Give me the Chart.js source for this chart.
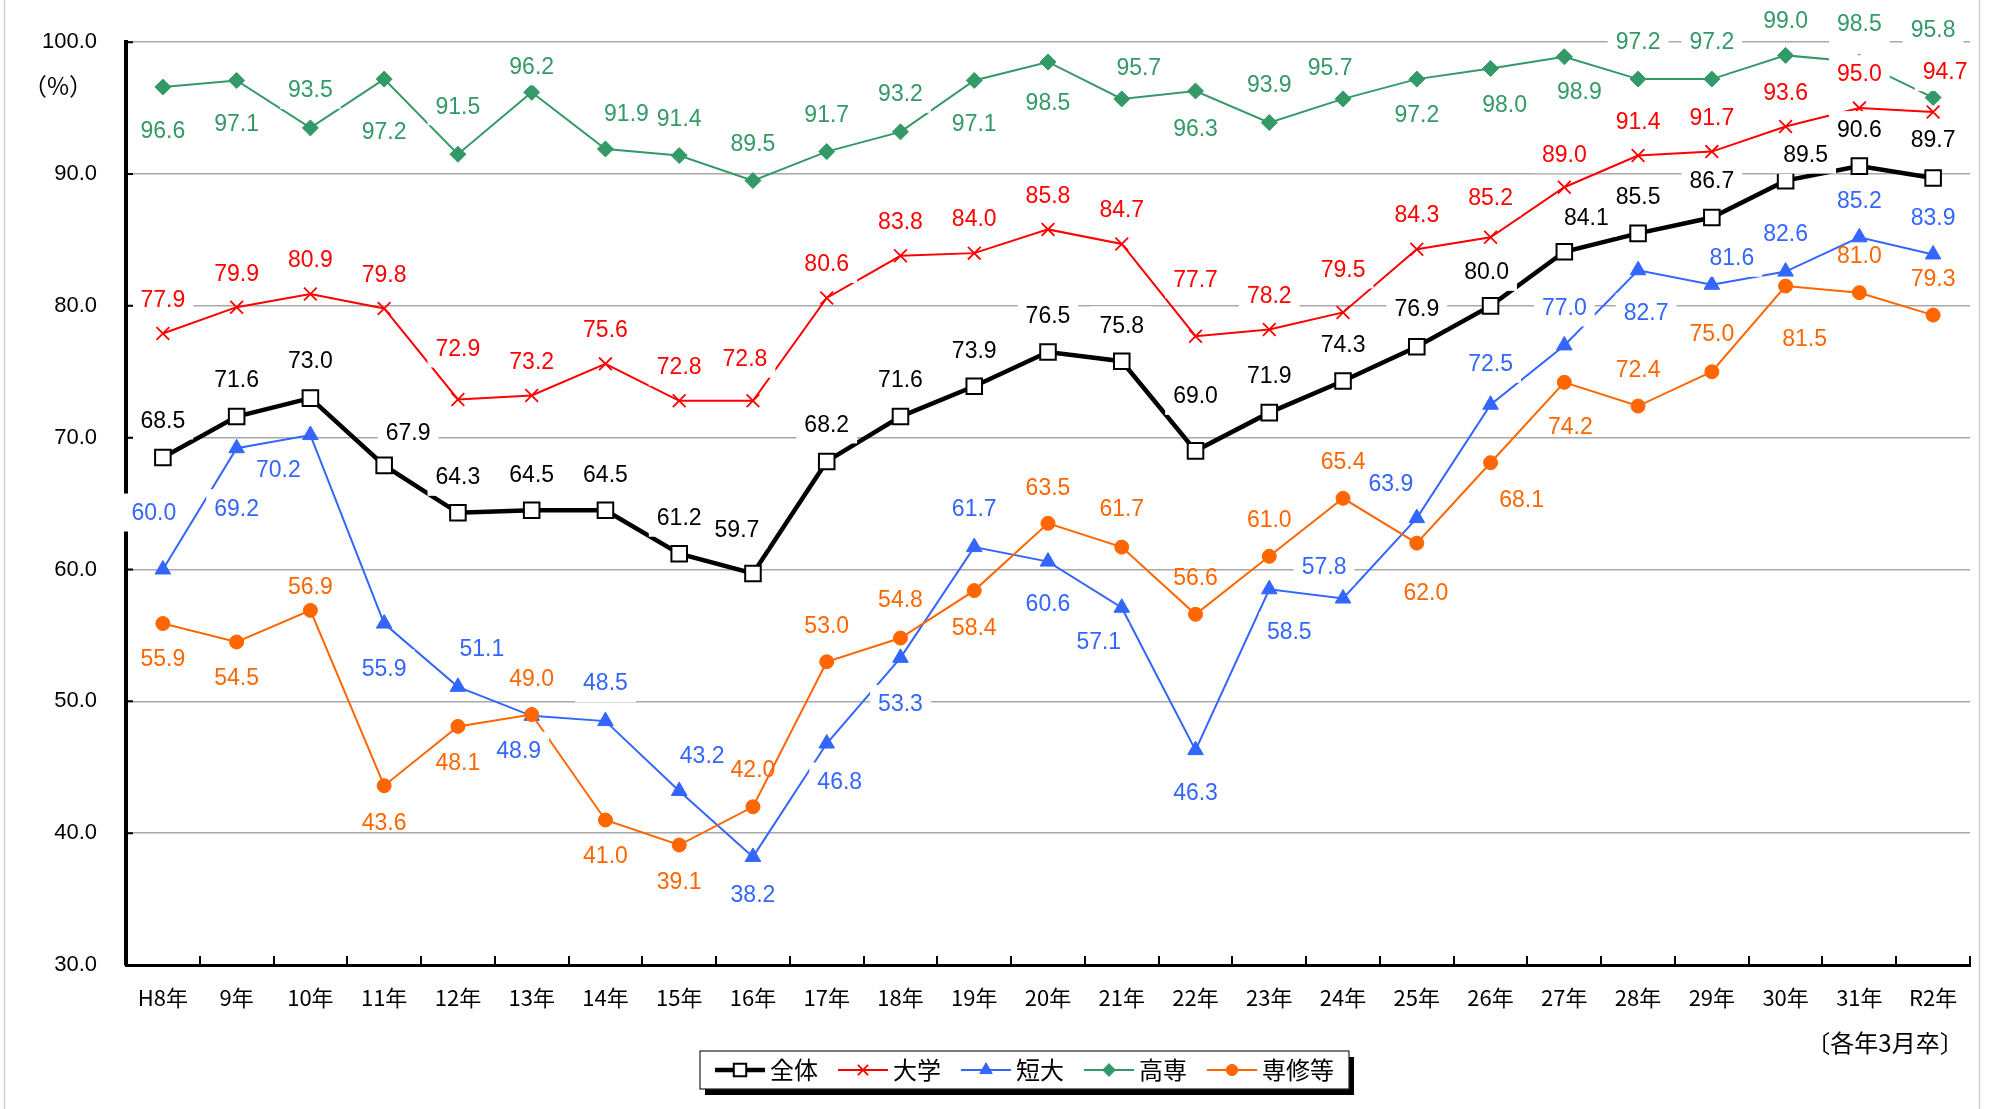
<!DOCTYPE html>
<html lang="ja">
<head>
<meta charset="utf-8">
<title>就職率の推移</title>
<script src="https://cdn.jsdelivr.net/npm/chart.js@4.4.1/dist/chart.umd.min.js"></script>
<style>
  html, body { margin: 0; padding: 0; background: #fff; }
  #wrap { width: 2002px; height: 1109px; position: relative; }
</style>
</head>
<body>
<div id="wrap"><canvas id="myChart" width="2002" height="1109"></canvas></div>
<script>
// x axis
const years = ['H8年', '9年', '10年', '11年', '12年', '13年', '14年', '15年', '16年', '17年', '18年', '19年',
  '20年', '21年', '22年', '23年', '24年', '25年', '26年', '27年', '28年', '29年', '30年', '31年', 'R2年'];

// series values (%)
const zentai = [68.5, 71.6, 73.0, 67.9, 64.3, 64.5, 64.5, 61.2, 59.7, 68.2, 71.6, 73.9, 76.5, 75.8, 69.0, 71.9, 74.3, 76.9, 80.0, 84.1, 85.5, 86.7, 89.5, 90.6, 89.7];
const daigaku = [77.9, 79.9, 80.9, 79.8, 72.9, 73.2, 75.6, 72.8, 72.8, 80.6, 83.8, 84.0, 85.8, 84.7, 77.7, 78.2, 79.5, 84.3, 85.2, 89.0, 91.4, 91.7, 93.6, 95.0, 94.7];
const tandai = [60.0, 69.2, 70.2, 55.9, 51.1, 48.9, 48.5, 43.2, 38.2, 46.8, 53.3, 61.7, 60.6, 57.1, 46.3, 58.5, 57.8, 63.9, 72.5, 77.0, 82.7, 81.6, 82.6, 85.2, 83.9];
const kosen = [96.6, 97.1, 93.5, 97.2, 91.5, 96.2, 91.9, 91.4, 89.5, 91.7, 93.2, 97.1, 98.5, 95.7, 96.3, 93.9, 95.7, 97.2, 98.0, 98.9, 97.2, 97.2, 99.0, 98.5, 95.8];
const senshu = [55.9, 54.5, 56.9, 43.6, 48.1, 49.0, 41.0, 39.1, 42.0, 53.0, 54.8, 58.4, 63.5, 61.7, 56.6, 61.0, 65.4, 62.0, 68.1, 74.2, 72.4, 75.0, 81.5, 81.0, 79.3];

// y ticks
const yMin = 30, yMax = 100, yStep = 10;

// where each value label sits relative to its point [dx, dy] in px
const zentaiPos = [[0,-37],[0,-37],[0,-37],[24,-33],[0,-36],[0,-36],[0,-36],[0,-36],[-16,-44],[0,-37],[0,-37],[0,-36],[0,-36],[0,-36],[0,-55],[0,-37],[0,-36],[0,-38],[-4,-34],[22,-34],[0,-37],[0,-37],[20,-26],[0,-36],[0,-38]];
const daigakuPos = [[0,-34],[0,-34],[0,-34],[0,-34],[0,-51],[0,-34],[0,-34],[0,-34],[-8,-42],[0,-34],[0,-34],[0,-34],[0,-34],[0,-34],[0,-57],[0,-34],[0,-43],[0,-35],[0,-40],[0,-33],[0,-34],[0,-34],[0,-34],[0,-34],[12,-40]];
const tandaiPos = [[-9,-57],[0,60],[-32,35],[0,45],[24,-38],[-13,35],[0,-38],[23,-35],[0,38],[13,38],[0,46],[0,-38],[0,42],[-23,34],[0,43],[20,42],[-19,-32],[-26,-34],[0,-41],[0,-38],[8,42],[20,-27],[0,-38],[0,-37],[0,-37]];
const kosenPos = [[0,44],[0,43],[0,-38],[0,53],[0,-48],[0,-26],[21,-35],[0,-37],[0,-37],[0,-37],[0,-38],[0,43],[0,41],[17,-31],[0,38],[0,-38],[-13,-31],[0,36],[14,36],[15,35],[0,-37],[0,-37],[0,-35],[0,-38],[0,-68]];
const senshuPos = [[0,35],[0,36],[0,-24],[0,37],[0,36],[0,-36],[0,36],[0,37],[0,-37],[0,-36],[0,-38],[0,37],[0,-36],[0,-38],[0,-37],[0,-37],[0,-37],[9,50],[31,37],[6,44],[0,-36],[0,-38],[19,53],[0,-37],[0,-36]];

const SANS = "'Liberation Sans', Arial, sans-serif";
const JP = "'Noto Sans CJK JP', sans-serif";

// value labels; most of them sit on a white box, like the excel original
const valueLabels = {
  id: 'valueLabels',
  afterDatasetsDraw(chart) {
    const ctx = chart.ctx;
    ctx.save();
    ctx.font = '23px ' + SANS;
    ctx.textAlign = 'center';
    ctx.textBaseline = 'middle';
    chart.data.datasets.forEach((ds, di) => {
      const meta = chart.getDatasetMeta(di);
      meta.data.forEach((pt, i) => {
        const txt = ds.data[i].toFixed(1);
        const off = ds.labelPos[i];
        const x = pt.x + off[0], y = pt.y + off[1];
        if (ds.labelBox) {
          const w = ctx.measureText(txt).width + 16;
          ctx.fillStyle = '#fff';
          ctx.fillRect(x - w / 2, y - 19, w, 38);
        }
        ctx.fillStyle = ds.labelColor;
        ctx.fillText(txt, x, y + 1);
      });
    });
    ctx.restore();
  }
};

// frame, inside ticks, unit, note and legend box
const extras = {
  id: 'extras',
  beforeDraw(chart) {
    const ctx = chart.ctx;
    ctx.save();
    ctx.strokeStyle = '#d4d4d4';
    ctx.lineWidth = 1.5;
    ctx.beginPath();
    ctx.moveTo(4.5, 0); ctx.lineTo(4.5, 1109);
    ctx.moveTo(1979.5, 0); ctx.lineTo(1979.5, 1109);
    ctx.stroke();
    ctx.restore();
  },
  afterDraw(chart) {
    const ctx = chart.ctx;
    const area = chart.chartArea;
    const xs = chart.scales.x;
    const ys = chart.scales.y;
    ctx.save();
    // ticks pointing inward
    ctx.strokeStyle = '#000';
    ctx.lineWidth = 2;
    ctx.beginPath();
    const step = xs.getPixelForValue(1) - xs.getPixelForValue(0);
    for (let i = 0; i <= years.length; i++) {
      const px = Math.round(xs.getPixelForValue(i) - step / 2);
      ctx.moveTo(px, area.bottom);
      ctx.lineTo(px, area.bottom - 9);
    }
    for (let v = yMin; v <= yMax; v += yStep) {
      const py = ys.getPixelForValue(v);
      ctx.moveTo(area.left, py);
      ctx.lineTo(area.left + 7, py);
    }
    ctx.stroke();

    ctx.fillStyle = '#000';
    ctx.textBaseline = 'middle';
    ctx.textAlign = 'center';
    ctx.font = '24px ' + JP;
    ctx.fillText('（%）', 58, 86);
    ctx.fillText('〔各年3月卒〕', 1885, 1043);

    // legend
    const items = chart.data.datasets;
    ctx.font = '24px ' + JP;
    const lineLen = 50, gap = 5, space = 20;
    let total = 0;
    items.forEach((ds, i) => {
      total += lineLen + gap + ctx.measureText(ds.label).width + (i < items.length - 1 ? space : 0);
    });
    const boxL = 700, boxR = 1349, boxT = 1051, boxB = 1089;
    ctx.fillStyle = '#000';
    ctx.fillRect(boxL + 5, boxT + 6, boxR - boxL, boxB - boxT);
    ctx.fillStyle = '#fff';
    ctx.fillRect(boxL, boxT, boxR - boxL, boxB - boxT);
    ctx.strokeStyle = '#222';
    ctx.lineWidth = 1.2;
    ctx.strokeRect(boxL, boxT, boxR - boxL, boxB - boxT);
    let lx = (boxL + boxR) / 2 - total / 2;
    const ly = (boxT + boxB) / 2;
    items.forEach((ds) => {
      ctx.strokeStyle = ds.borderColor;
      ctx.lineWidth = ds.borderWidth;
      ctx.beginPath();
      ctx.moveTo(lx, ly); ctx.lineTo(lx + lineLen, ly);
      ctx.stroke();
      ctx.fillStyle = ds.pointBackgroundColor;
      ctx.strokeStyle = ds.pointBorderColor;
      ctx.lineWidth = ds.pointBorderWidth;
      Chart.helpers.drawPoint(ctx, {
        pointStyle: ds.pointStyle,
        radius: ds.pointRadius * 0.8,
        rotation: 0,
        borderWidth: ds.pointBorderWidth
      }, lx + lineLen / 2, ly);
      ctx.fillStyle = '#000';
      ctx.textAlign = 'left';
      ctx.fillText(ds.label, lx + lineLen + gap, ly);
      lx += lineLen + gap + ctx.measureText(ds.label).width + space;
    });
    ctx.restore();
  }
};

const ctx = document.querySelector('#myChart').getContext('2d');

new Chart(ctx, {
  type: 'line',
  data: {
    labels: years,
    datasets: [
      {
        label: '全体', data: zentai, labelPos: zentaiPos, labelColor: '#000', labelBox: true,
        borderColor: '#000', borderWidth: 4.5,
        pointStyle: 'rect', pointRadius: 11, pointBackgroundColor: '#fff',
        pointBorderColor: '#000', pointBorderWidth: 2, order: 5
      },
      {
        label: '大学', data: daigaku, labelPos: daigakuPos, labelColor: '#ff0000', labelBox: true,
        borderColor: '#ff0000', borderWidth: 2,
        pointStyle: 'crossRot', pointRadius: 9, pointBackgroundColor: '#ff0000',
        pointBorderColor: '#ff0000', pointBorderWidth: 1.8, order: 4
      },
      {
        label: '短大', data: tandai, labelPos: tandaiPos, labelColor: '#3366ff', labelBox: true,
        borderColor: '#3366ff', borderWidth: 2,
        pointStyle: 'triangle', pointRadius: 9, pointBackgroundColor: '#3366ff',
        pointBorderColor: '#3366ff', pointBorderWidth: 1, order: 3
      },
      {
        label: '高専', data: kosen, labelPos: kosenPos, labelColor: '#339966', labelBox: true,
        borderColor: '#339966', borderWidth: 2,
        pointStyle: 'rectRot', pointRadius: 8, pointBackgroundColor: '#339966',
        pointBorderColor: '#339966', pointBorderWidth: 1, order: 2
      },
      {
        label: '専修等', data: senshu, labelPos: senshuPos, labelColor: '#ff6600', labelBox: false,
        borderColor: '#ff6600', borderWidth: 2,
        pointStyle: 'circle', pointRadius: 7, pointBackgroundColor: '#ff6600',
        pointBorderColor: '#ff6600', pointBorderWidth: 1, order: 1
      }
    ]
  },
  options: {
    responsive: false,
    animation: false,
    devicePixelRatio: 1,
    layout: { padding: { left: 0, top: 41, right: 32, bottom: 0 } },
    plugins: {
      legend: { display: false },
      tooltip: { enabled: false }
    },
    elements: { line: { tension: 0 } },
    scales: {
      x: {
        offset: true,
        grid: { display: false, drawTicks: false },
        border: { display: true, color: '#000', width: 3 },
        ticks: { color: '#000', padding: 19, maxRotation: 0, autoSkip: false,
          font: { family: JP, size: 22, lineHeight: 1.2 } },
        afterFit(scale) { scale.height = 144; }
      },
      y: {
        min: yMin, max: yMax,
        grid: { color: '#a8a8a8', lineWidth: 1.5, drawTicks: false },
        border: { display: true, color: '#000', width: 4 },
        ticks: { stepSize: yStep, color: '#000', padding: 29,
          font: { family: SANS, size: 22 },
          callback: v => v.toFixed(1) },
        afterFit(scale) { scale.width = 126; }
      }
    }
  },
  plugins: [extras, valueLabels]
});
</script>
</body>
</html>
